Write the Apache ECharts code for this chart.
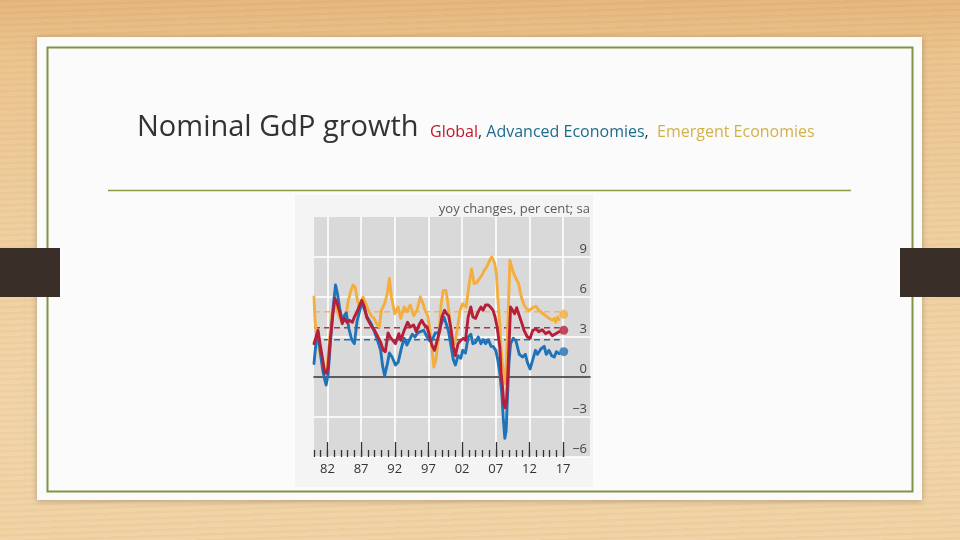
<!DOCTYPE html>
<html>
<head>
<meta charset="utf-8">
<script src="https://cdn.jsdelivr.net/npm/echarts@6/dist/echarts.min.js"></script>
<style>
  html, body { margin: 0; padding: 0; }
  body {
    width: 960px; height: 540px; overflow: hidden;
    background:
      repeating-linear-gradient(178deg, rgba(190,130,60,0.05) 0px, rgba(190,130,60,0.05) 2px, rgba(255,255,255,0.04) 3px, rgba(255,255,255,0.04) 6px),
      linear-gradient(180deg, #e4b57a 0%, #eac28b 10%, #eecd9c 40%, #f0d3a6 75%, #efd1a2 100%);
  }
  #chart { width: 960px; height: 540px; }
</style>
</head>
<body>
<div id="chart"></div>
<script>
// ---- data ----
const seriesNames = ['Emergent Economies', 'Advanced Economies', 'Global'];

const emergingData = [[1980.0,6.0],[1980.15,4.3],[1980.4,3.0],[1980.8,2.0],[1981.2,1.0],[1981.6,0.4],[1981.9,0.5],[1982.3,2.75],[1982.6,4.5],[1983.0,5.6],[1983.3,5.25],[1983.7,4.6],[1984.0,4.25],[1984.4,4.5],[1984.8,4.75],[1985.1,5.75],[1985.5,6.5],[1985.8,6.9],[1986.1,6.75],[1986.4,5.9],[1986.7,5.25],[1987.0,5.6],[1987.3,6.0],[1987.7,5.5],[1988.1,5.0],[1988.5,4.6],[1988.9,4.4],[1989.3,4.0],[1989.7,3.75],[1990.0,5.0],[1990.5,5.5],[1990.9,6.3],[1991.2,7.4],[1991.5,6.0],[1992.0,4.75],[1992.5,5.25],[1992.9,4.4],[1993.4,5.25],[1993.8,4.9],[1994.3,5.4],[1994.8,4.6],[1995.3,5.0],[1995.8,6.0],[1996.2,5.5],[1996.5,5.0],[1996.9,4.6],[1997.3,3.25],[1997.5,2.25],[1997.8,0.75],[1998.1,1.25],[1998.5,3.0],[1998.9,5.5],[1999.2,6.5],[1999.6,6.5],[1999.9,5.5],[2000.2,4.1],[2000.6,2.8],[2000.9,2.5],[2001.3,3.6],[2001.7,5.0],[2002.1,5.5],[2002.6,5.25],[2003.0,6.8],[2003.4,8.1],[2003.8,7.0],[2004.2,7.1],[2004.6,7.4],[2004.9,7.6],[2005.3,8.0],[2005.7,8.3],[2006.1,8.75],[2006.4,9.0],[2006.8,8.6],[2007.1,7.75],[2007.3,6.0],[2007.6,4.0],[2007.8,2.0],[2008.1,0.5],[2008.3,-0.5],[2008.5,0.2],[2008.7,2.5],[2008.9,5.5],[2009.1,8.75],[2009.3,8.9],[2009.5,8.0],[2009.8,7.6],[2010.0,7.7],[2010.4,7.0],[2010.8,6.0],[2011.2,5.4],[2011.6,5.1],[2012.0,5.0],[2012.5,5.2],[2013.0,5.3],[2013.4,5.0],[2013.9,4.8],[2014.4,4.6],[2014.9,4.4],[2015.4,4.25],[2015.7,4.4],[2015.9,4.1],[2016.2,4.5],[2016.4,4.3]];

const advancedData = [[1980.0,1.0],[1980.3,2.6],[1980.6,3.2],[1980.9,2.0],[1981.3,0.5],[1981.6,-0.2],[1981.8,-0.6],[1982.1,0.2],[1982.5,3.0],[1982.9,5.5],[1983.2,6.9],[1983.5,6.2],[1983.8,5.2],[1984.2,4.2],[1984.5,4.6],[1984.8,4.8],[1985.2,3.6],[1985.6,2.8],[1986.0,2.5],[1986.4,4.2],[1986.8,5.0],[1987.1,5.6],[1987.4,5.2],[1987.9,4.5],[1988.5,4.0],[1988.9,3.5],[1989.4,2.8],[1989.9,2.0],[1990.2,0.8],[1990.5,0.1],[1990.9,1.0],[1991.2,1.8],[1991.6,1.5],[1992.1,0.9],[1992.5,1.1],[1993.0,2.2],[1993.4,2.9],[1993.8,2.4],[1994.2,2.8],[1994.6,3.2],[1995.0,3.0],[1995.4,3.3],[1995.8,3.4],[1996.3,3.5],[1996.8,3.0],[1997.2,2.7],[1997.6,2.8],[1998.0,3.3],[1998.5,3.3],[1998.9,4.0],[1999.3,4.5],[1999.7,3.9],[2000.0,3.4],[2000.4,2.2],[2000.7,1.3],[2001.0,0.9],[2001.4,1.6],[2001.8,1.4],[2002.1,2.0],[2002.5,1.8],[2002.9,3.0],[2003.3,3.2],[2003.6,2.5],[2004.0,2.6],[2004.4,3.0],[2004.8,2.5],[2005.1,2.8],[2005.5,2.5],[2005.9,2.8],[2006.3,2.3],[2006.6,2.3],[2007.0,2.0],[2007.3,1.3],[2007.6,0.3],[2007.9,-1.2],[2008.1,-3.0],[2008.35,-4.6],[2008.55,-4.0],[2008.75,-1.3],[2008.95,1.0],[2009.2,2.5],[2009.6,2.9],[2010.0,2.7],[2010.5,1.7],[2011.0,1.5],[2011.4,1.7],[2011.7,1.1],[2012.1,0.6],[2012.5,1.3],[2012.9,2.0],[2013.2,1.7],[2013.7,2.1],[2014.2,2.3],[2014.5,1.7],[2014.9,2.0],[2015.3,1.6],[2015.7,1.5],[2016.0,1.9],[2016.4,1.75]];

const globalData = [[1980.0,2.5],[1980.3,3.0],[1980.6,3.5],[1980.9,2.5],[1981.2,1.6],[1981.6,0.3],[1981.9,0.3],[1982.1,0.8],[1982.4,2.7],[1982.8,4.7],[1983.1,5.9],[1983.4,5.6],[1983.8,4.9],[1984.2,4.0],[1984.5,4.4],[1984.9,4.1],[1985.3,4.25],[1985.7,4.1],[1986.0,4.5],[1986.4,4.9],[1986.8,5.4],[1987.1,5.75],[1987.5,5.25],[1987.8,4.5],[1988.2,4.1],[1988.6,3.75],[1989.0,3.5],[1989.5,3.0],[1989.9,2.6],[1990.3,2.0],[1990.6,1.9],[1991.0,3.3],[1991.3,3.0],[1991.7,2.75],[1992.1,2.5],[1992.6,3.25],[1992.9,2.75],[1993.4,3.5],[1993.9,4.1],[1994.3,3.75],[1994.8,3.9],[1995.2,3.4],[1995.7,4.0],[1996.0,4.25],[1996.4,3.9],[1996.8,3.75],[1997.2,3.0],[1997.5,2.4],[1997.9,2.0],[1998.3,2.75],[1998.7,3.5],[1999.0,4.5],[1999.4,5.0],[1999.7,4.75],[2000.0,4.6],[2000.3,3.75],[2000.7,2.25],[2001.0,1.6],[2001.4,2.5],[2001.8,2.75],[2002.2,2.9],[2002.5,2.75],[2002.9,4.5],[2003.3,5.25],[2003.6,4.5],[2004.0,4.4],[2004.4,4.9],[2004.8,5.25],[2005.1,5.0],[2005.5,5.4],[2005.9,5.4],[2006.2,5.25],[2006.6,5.0],[2006.9,4.5],[2007.2,3.75],[2007.6,2.25],[2007.8,0.25],[2008.0,-0.75],[2008.2,-2.0],[2008.4,-2.3],[2008.6,-1.75],[2008.8,0.25],[2009.0,2.75],[2009.2,5.25],[2009.5,5.0],[2009.8,4.75],[2010.1,5.2],[2010.3,4.9],[2010.5,4.6],[2010.9,4.0],[2011.2,3.5],[2011.7,3.0],[2012.1,2.9],[2012.5,3.5],[2013.0,3.6],[2013.4,3.4],[2013.9,3.55],[2014.4,3.25],[2014.9,3.4],[2015.4,3.1],[2015.9,3.25],[2016.4,3.4]];

// long-term averages (dashed) and latest observations (dots)
const averageValues = [4.9, 2.8, 3.7];          // emerging, advanced, global
const averageSpan = [1980, 2016.5];
const latestYear = 2017.1;
const latestValues = [4.7, 1.9, 3.5];           // emerging, advanced, global

// axis ticks
const xTickLabels = ['82', '87', '92', '97', '02', '07', '12', '17'];
const yMin = -6, yMax = 12, yStep = 3;
const xMin = 1980, xMax = 2021, xFirstMajor = 1982, xLastTick = 2017;

// ---- styling ----
const lineColors = ['#f4ae3d', '#1f73b8', '#b61f3a'];
const dashColors = ['#efb760', '#2a6ea8', '#b43048'];

// plot geometry (pixels)
const plotLeft = 314, plotTop = 217, plotWidth = 276, plotHeight = 240;
const ppy = plotWidth / (xMax - xMin);

const chart = echarts.init(document.getElementById('chart'), null, { renderer: 'canvas' });

const lineSeriesData = [emergingData, advancedData, globalData];
const series = [];
averageValues.forEach((v, i) => {
  series.push({
    type: 'line', xAxisIndex: 0, yAxisIndex: 0, symbol: 'none', silent: true, z: 2,
    data: [[averageSpan[0], v], [averageSpan[1], v]],
    lineStyle: { color: dashColors[i], width: 1.5, type: [6, 4] }
  });
});
lineSeriesData.forEach((d, i) => {
  series.push({
    name: seriesNames[i], type: 'line', xAxisIndex: 0, yAxisIndex: 0,
    symbol: 'none', silent: true, z: 3 + i, data: d,
    lineStyle: { color: lineColors[i], width: 2.9, join: 'round', cap: 'round' }
  });
});
latestValues.forEach((v, i) => {
  series.push({
    type: 'scatter', xAxisIndex: 0, yAxisIndex: 0, silent: true, z: 7,
    symbolSize: 9, data: [[latestYear, v]],
    itemStyle: { color: lineColors[i] }
  });
});

const option = {
  animation: false,
  backgroundColor: 'transparent',
  textStyle: { fontFamily: 'Open Sans, Noto Sans, sans-serif' },
  graphic: [
    { type: 'rect', z: -10, shape: { x: 37, y: 37, width: 885, height: 463 },
      style: { fill: '#fbfbfb', shadowBlur: 6, shadowColor: 'rgba(0,0,0,0.25)', shadowOffsetY: 1 } },
    { type: 'rect', z: -9, shape: { x: 47.5, y: 47.5, width: 865, height: 444 },
      style: { fill: 'none', stroke: '#7e9347', lineWidth: 2 } },
    { type: 'rect', z: -8, shape: { x: 0, y: 248, width: 60, height: 49 },
      style: { fill: '#3a2e28' } },
    { type: 'rect', z: -8, shape: { x: 900, y: 248, width: 60, height: 49 },
      style: { fill: '#3a2e28' } },
    { type: 'line', z: -8, shape: { x1: 108, y1: 190.5, x2: 851, y2: 190.5 },
      style: { stroke: '#8a9c46', lineWidth: 1.5 } },
    { type: 'rect', z: -7, shape: { x: 295, y: 195, width: 298, height: 292 },
      style: { fill: '#f4f4f4' } },
    { type: 'text', z: 10, left: 137, top: 113,
      style: { text: 'Nominal GdP growth', font: '400 29px "Open Sans", sans-serif', fill: '#333333' } },
    { type: 'text', z: 10, left: 430, top: 124,
      style: {
        text: '{g|Global}{c|, }{a|Advanced Economies}{c|,  }{e|Emergent Economies}',
        font: '400 16px "Open Sans", sans-serif',
        rich: {
          g: { fill: '#c01628', font: '400 16px "Open Sans", sans-serif' },
          c: { fill: '#333333', font: '400 16px "Open Sans", sans-serif' },
          a: { fill: '#1c6b8e', font: '400 16px "Open Sans", sans-serif' },
          e: { fill: '#d4b04a', font: '400 16px "Open Sans", sans-serif' }
        }
      } },
    { type: 'text', z: 10, right: 960 - 590, top: 203,
      style: { text: 'yoy changes, per cent; sa', font: '400 13px "Open Sans", sans-serif', fill: '#5a5a5a' } }
  ],
  grid: [
    { left: plotLeft, top: plotTop, width: plotWidth, height: plotHeight, show: true,
      backgroundColor: '#d9d9d9', borderWidth: 0, z: 0 },
    { left: plotLeft + (xFirstMajor - xMin) * ppy, top: plotTop,
      width: (xLastTick - xFirstMajor) * ppy, height: plotHeight, z: 1 },
    { left: plotLeft, top: plotTop, width: (xLastTick - xMin) * ppy, height: plotHeight, z: 1 }
  ],
  xAxis: [
    { type: 'value', gridIndex: 0, min: xMin, max: xMax, z: 2,
      axisLine: { show: true, onZero: true, lineStyle: { color: '#2b2b2b', width: 1.6 } },
      axisTick: { show: false }, axisLabel: { show: false }, splitLine: { show: false } },
    { type: 'value', gridIndex: 1, min: 0, max: xLastTick - xFirstMajor, interval: 5, z: 1,
      axisLine: { show: false, onZero: false },
      axisTick: { show: true, inside: true, length: 15, lineStyle: { color: '#333', width: 1.3 } },
      axisLabel: { show: true, margin: 6, color: '#333', fontSize: 13,
        formatter: v => xTickLabels[Math.round(v / 5)] },
      splitLine: { show: true, lineStyle: { color: '#ffffff', width: 1.6 } } },
    { type: 'value', gridIndex: 2, min: xMin, max: xLastTick, interval: 1, z: 1,
      axisLine: { show: false, onZero: false },
      axisTick: { show: true, inside: true, length: 7, lineStyle: { color: '#333', width: 1.3 } },
      axisLabel: { show: false }, splitLine: { show: false } }
  ],
  yAxis: [
    { type: 'value', gridIndex: 0, min: yMin, max: yMax, interval: yStep, position: 'right', z: 1,
      axisLine: { show: false }, axisTick: { show: false },
      axisLabel: { show: true, inside: true, margin: 3, color: '#444', fontSize: 13,
        verticalAlign: 'bottom', padding: [0, 0, 1, 0],
        formatter: v => v >= yMax ? '' : (v < 0 ? '\u2212' + Math.abs(v) : String(v)) },
      splitLine: { show: true, showMaxLine: false, lineStyle: { color: '#ffffff', width: 1.6 } } },
    { type: 'value', gridIndex: 1, min: 0, max: 1, show: false },
    { type: 'value', gridIndex: 2, min: 0, max: 1, show: false }
  ],
  series: series
};
chart.setOption(option);
</script>
</body>
</html>
